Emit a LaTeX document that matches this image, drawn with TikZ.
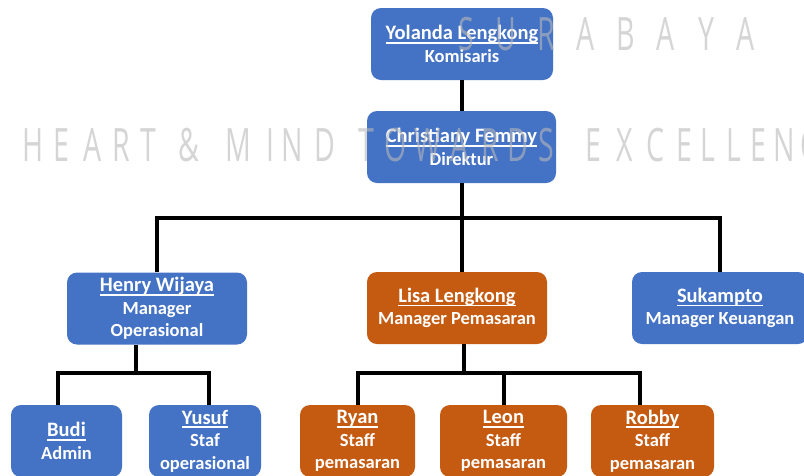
\documentclass[tikz,border=0pt]{standalone}
\usepackage{fontspec}
\setmainfont{Carlito}
\newfontfamily\wmfont{Open Sans}
\usetikzlibrary{positioning}
\usetikzlibrary{calc}
\definecolor{boxblue}{RGB}{68,114,196}
\definecolor{boxorange}{RGB}{197,90,17}
\definecolor{wmgray}{RGB}{185,185,185}
% underlined name
\newcommand{\nm}[1]{{\fontsize{20.5}{23}\selectfont\setbox0\hbox{#1}\rlap{\rule[-4pt]{\wd0}{1.8pt}}\box0}}

\begin{document}
\begin{tikzpicture} [x=1pt,y=-1pt,
            person/.style={rounded corners=10pt,text=white,inner sep=0pt,
              minimum height=72pt,font=\bfseries\fontsize{18.5}{22.5}\selectfont},
            bluebox/.style={person,fill=boxblue},
            orangebox/.style={person,fill=boxorange},
            link/.style={line width=4pt,black},
            wm/.style={text=wmgray,text opacity=0.6,inner sep=0pt,anchor=base,
              xscale=0.62,font=\wmfont\fontsize{46}{46}\selectfont},
         every node/.append style={align=center}]

% canvas
\useasboundingbox (0,0) rectangle (804,475);
\clip (0,0) rectangle (804,475);
\path[fill=white] (0,0) rectangle (804,475);

%Komisaris
\node (yolanda) at (462,44) [bluebox,minimum width=182pt] {\nm{Yolanda Lengkong}\\Komisaris};

%Direktur
\node (christiany) at (461.5,147) [bluebox,minimum width=189pt] {\nm{Christiany Femmy}\\Direktur};
\draw [link] (yolanda.south) -- (yolanda.south |- christiany.north);

%Manager
\node (henry) at (157,308.5) [bluebox,minimum width=180pt] {\nm{Henry Wijaya}\\Manager\\Operasional};
\node (lisa) at (457,308) [orangebox,minimum width=180pt] {\nm{Lisa Lengkong}\\Manager Pemasaran};
\node (sukampto) at (720,308) [bluebox,minimum width=176pt] {\nm{Sukampto}\\Manager Keuangan};
\coordinate (bus1) at (461,218);
\draw [link] (christiany.south) -- (christiany.south |- lisa.north);
\draw [link] (henry.north) -- (henry.north |- bus1) -- (sukampto.north |- bus1) -- (sukampto.north);

%Staf operasional
\node (budi) at (66.5,441) [bluebox,minimum width=111pt] {\nm{Budi}\\Admin};
\node (yusuf) at (205,441) [bluebox,minimum width=112pt] {\nm{Yusuf}\\Staf\\operasional};
\coordinate (bus2) at (0,373);
\draw [link] ([xshift=-21pt]henry.south) -- ([xshift=-21pt]henry.south |- bus2);
\draw [link] ([xshift=-8.5pt]budi.north) |- ([xshift=4pt]yusuf.north |- bus2) -- ([xshift=4pt]yusuf.north);

%Staff pemasaran
\node (ryan) at (357.5,441) [orangebox,minimum width=115pt] {\nm{Ryan}\\Staff\\pemasaran};
\node (leon) at (503.5,441) [orangebox,minimum width=127pt] {\nm{Leon}\\Staff\\pemasaran};
\node (robby) at (652.5,441) [orangebox,minimum width=123pt] {\nm{Robby}\\Staff\\pemasaran};
\draw [link] ([xshift=7pt]lisa.south) -- ([xshift=7pt]lisa.south |- bus2);
\draw [link] (ryan.north) |- ([xshift=-12.5pt]robby.north |- bus2) -- ([xshift=-12.5pt]robby.north);
\draw [link] (leon.north) -- (leon.north |- bus2);

% watermark
\foreach \ch/\xx [count=\i] in {S/466,U/506,R/546,A/586,B/626,A/666,Y/706,A/746}
  \node (wma\i) at (\xx,50) [wm] {\ch};
\foreach \ch/\xx [count=\i] in {H/33,E/61,A/93,R/121,T/148,\&/189,M/238,I/270,N/292,D/325,
    T/366,O/396,W/428,A/460,R/490,D/518,S/546,E/593,X/625,C/655,E/684,L/708,L/734,E/758,N/784,C/809}
  \node (wmb\i) at (\xx,161) [wm] {\ch};

\end{tikzpicture}
\end{document}
